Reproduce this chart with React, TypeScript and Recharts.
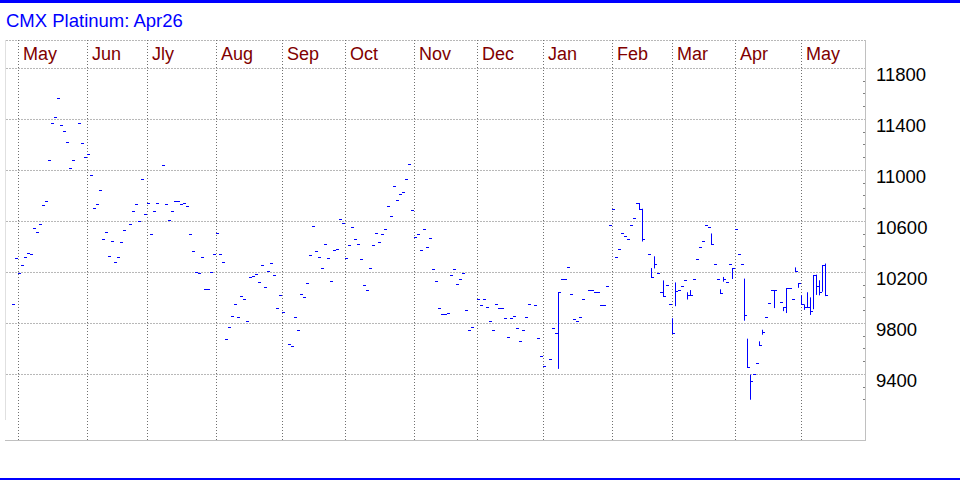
import React from 'react';
import { ComposedChart, Scatter, ErrorBar, XAxis, YAxis, ReferenceLine } from 'recharts';

// ---- data ----
const titleText = 'CMX Platinum: Apr26';
const monthLabels = ['May', 'Jun', 'Jly', 'Aug', 'Sep', 'Oct', 'Nov', 'Dec', 'Jan', 'Feb', 'Mar', 'Apr', 'May'];
const monthStarts = [2, 25, 45, 68, 90, 111, 134, 155, 177, 200, 220, 241, 263];
const gridValues = [9400, 9800, 10200, 10600, 11000, 11400, 11800];
const axisTicks = [
  9200, 9300, 9400, 9500, 9600, 9700, 9800, 9900, 10000, 10100, 10200, 10300, 10400, 10500,
  10600, 10700, 10800, 10900, 11000, 11100, 11200, 11300, 11400, 11500, 11600, 11700, 11800,
];

// daily closes, one per trading-day slot (null = no bar)
const closes: (number | null)[] = [
  9946, 10307, 10190, 10252, 10315, 10346, 10339, 10542, 10511, 10574,
  10723, 10754, 11076, 11366, 11413, 11562, 11350, 11303, 11217, 11013,
  11076, null, 11366, 11209, 11099, 11123, 10958, 10699, 10731, 10841,
  10456, 10511, 10323, 10441, 10276, 10315, 10433, 10527, null, 10574,
  10676, 10731, 10597, 10927, 10652, 10739, 10495, 10676, 10739, null,
  11037, 10731, 10605, 10676, 10754, 10754, 10731, 10739, 10715, 10495,
  10362, 10197, 10190, 10315, 10064, 10064, 10197, 10339, 10503, 10339,
  10276, 9672, 9766, 9852, 9946, 9844, 10009, 9986, 9813, 10158,
  10166, 10182, 10119, 10252, 10080, 10205, 10268, 10174, 9915, 10017,
  9884, null, 9633, 9617, 9844, 9742, 10025, 10001, 10111, 10331,
  10558, 10362, 10315, 10229, 10417, 10307, 10127, 10370, 10378, 10613,
  10582, 10307, 10409, 10550, 10456, 10417, 10299, 10095, 10056, 10229,
  10409, 10503, 10433, 10495, 10535, 10715, 10637, 10872, 10762, 10809,
  10825, 10927, 11044, 10684, 10472, 10495, 10370, 10535, 10393, 10464,
  10221, 10127, 9915, 9868, 9868, 9876, 10174, 10221, 10103, 10142,
  10190, 9899, 9742, 9766, null, 9986, 9939, 9986, 9923, 9813,
  9742, 9946, 9915, 9915, 9837, 9688, 9837, 9852, 9758, 9656,
  9742, 9844, 9946, null, 9939, 9680, 9539, 9460, null, 9515,
  9758, 9719, 10046, 10142, 10142, 10237, 10025, 9829, 9813, 9844,
  9986, null, 10056, 10056, 10041, 10041, 9939, 9939, 10090, 10570,
  10695, 10318, 10380, 10507, 10480, 10456, 10566, 10621, 10745, 10697,
  10456, null, 10339, 10157, 10264, 10190, 10041, 10010, 10095, 9946,
  9720, 10053, 10058, 10088, 10138, 10018, 10018, 10144, 10301, 10393,
  10443, 10568, 10552, 10420, 10263, 10144, 10035, 10145, 10121, 10263,
  10231, 10538, 10342, 10263, 9863, 9453, 9343, 9399, 9486, 9624,
  9731, 9847, 9955, 10058, 10058, null, 9963, 9926, 10072, 10076,
  9986, 10205, 10113, 9950, 9927, 9926, 9894, 10180, 10091, 10045,
  10257, 10017,
];

// slots whose bar has a visible high-low range
const rangeSlots = [182, 209, 210, 213, 214, 217, 220, 221, 225, 226, 233, 236, 237, 240, 244, 245, 246, 249, 250, 254, 257, 258, 261, 262, 263, 264, 265, 266, 267, 268, 269, 270, 271];
const rangeHighs = [10046, 10745, 10700, 10235, 10327, 10138, 9841, 10122, 10045, 10062, 10506, 10068, 10165, 10231, 10152, 9681, 9399, 9660, 9751, 10058, 9926, 10072, 10240, 10113, 10021, 9950, 10045, 10005, 10180, 10183, 10139, 10257, 10270];
const rangeLows = [9444, 10697, 10443, 10157, 10232, 10010, 9720, 9936, 9988, 10018, 10420, 10035, 10128, 10149, 9822, 9453, 9202, 9624, 9712, 9921, 9897, 9882, 10205, 10080, 9950, 9907, 9926, 9867, 9912, 10024, 10021, 10049, 10015];

const rows = closes.flatMap((c, k) => {
  if (c == null) return [];
  const j = rangeSlots.indexOf(k);
  const h = j >= 0 ? rangeHighs[j] : c;
  const l = j >= 0 ? rangeLows[j] : c;
  return [{ k, c, e: [c - l, h - c] }];
});

// ---- styling constants ----
const BLUE = '#0000ff';
const GRID = '#707070';
const FONT = 'Arial, "Liberation Sans", sans-serif';
const X_DOMAIN: [number, number] = [-2.5, 284.333];
const Y_DOMAIN: [number, number] = [8878.4, 12023.53];
const TOP_LINE = 12019.6;
const BOTTOM_LINE = 8882.35;
const LEFT_EDGE = -2.333;
const LEFT_EDGE_END = 9043;

const CloseTick = (props: any) => {
  const { cx, cy } = props;
  if (cx == null || cy == null) return null;
  return (
    <line x1={cx - 0.5} x2={cx + 2.5} y1={cy} y2={cy} stroke={BLUE} strokeWidth={1} shapeRendering="crispEdges" />
  );
};

const MonthTick = (props: any) => {
  const { x, payload } = props;
  const i = monthStarts.indexOf(payload.value);
  return (
    <text x={x + 4.5} y={59.8} fill="#800000" fontSize={18} fontFamily={FONT} textAnchor="start">
      {monthLabels[i]}
    </text>
  );
};

const PriceTick = (props: any) => {
  const { x, y, payload } = props;
  const v = payload.value;
  if (gridValues.includes(v)) {
    return (
      <text x={x + 10.5} y={y + 12.2} fill="#000000" fontSize={18.5} fontFamily={FONT} textAnchor="start">
        {String(v)}
      </text>
    );
  }
  return <line x1={x - 2.5} x2={x - 0.5} y1={y} y2={y} stroke="#808080" strokeWidth={1} shapeRendering="crispEdges" />;
};

export default function App() {
  return (
    <div style={{ position: 'absolute', left: 0, top: 0, width: 960, height: 480, background: '#ffffff', overflow: 'hidden' }}>
      <ComposedChart width={960} height={480} margin={{ top: 20, right: 0, bottom: 39, left: 5 }}>
        <XAxis
          type="number"
          dataKey="k"
          orientation="top"
          domain={X_DOMAIN}
          allowDataOverflow
          ticks={monthStarts}
          interval={0}
          height={20}
          tickSize={0}
          tickMargin={0}
          axisLine={false}
          tickLine={false}
          tick={<MonthTick />}
        />
        <YAxis
          type="number"
          orientation="right"
          domain={Y_DOMAIN}
          allowDataOverflow
          ticks={axisTicks}
          interval={0}
          width={94.5}
          tickSize={0}
          tickMargin={0}
          tickLine={false}
          axisLine={{ stroke: '#c0c0c0' }}
          tick={<PriceTick />}
        />
        <ReferenceLine y={TOP_LINE} stroke={GRID} strokeDasharray="1 2" />
        {gridValues.map((v) => (
          <ReferenceLine key={'g' + v} y={v} stroke={GRID} strokeDasharray="1 2" />
        ))}
        {monthStarts.map((k) => (
          <ReferenceLine key={'m' + k} x={k} stroke={GRID} strokeDasharray="1 2" />
        ))}
        <ReferenceLine
          segment={[{ x: LEFT_EDGE, y: TOP_LINE }, { x: LEFT_EDGE, y: LEFT_EDGE_END }]}
          stroke="#c0c0c0"
          strokeDasharray="1 1"
        />
        <ReferenceLine y={BOTTOM_LINE} stroke="#c0c0c0" />
        <Scatter data={rows} dataKey="c" shape={<CloseTick />} isAnimationActive={false} legendType="none">
          <ErrorBar dataKey="e" direction="y" width={0} stroke={BLUE} strokeWidth={1} isAnimationActive={false} />
        </Scatter>
      </ComposedChart>
      <svg width={960} height={480} style={{ position: 'absolute', left: 0, top: 0, pointerEvents: 'none' }}>
        <rect x={0} y={0} width={960} height={3} fill={BLUE} />
        <rect x={0} y={478} width={960} height={2} fill={BLUE} />
        <text x={6} y={27.3} fill={BLUE} fontSize={18.5} fontFamily={FONT}>
          {titleText}
        </text>
      </svg>
    </div>
  );
}
